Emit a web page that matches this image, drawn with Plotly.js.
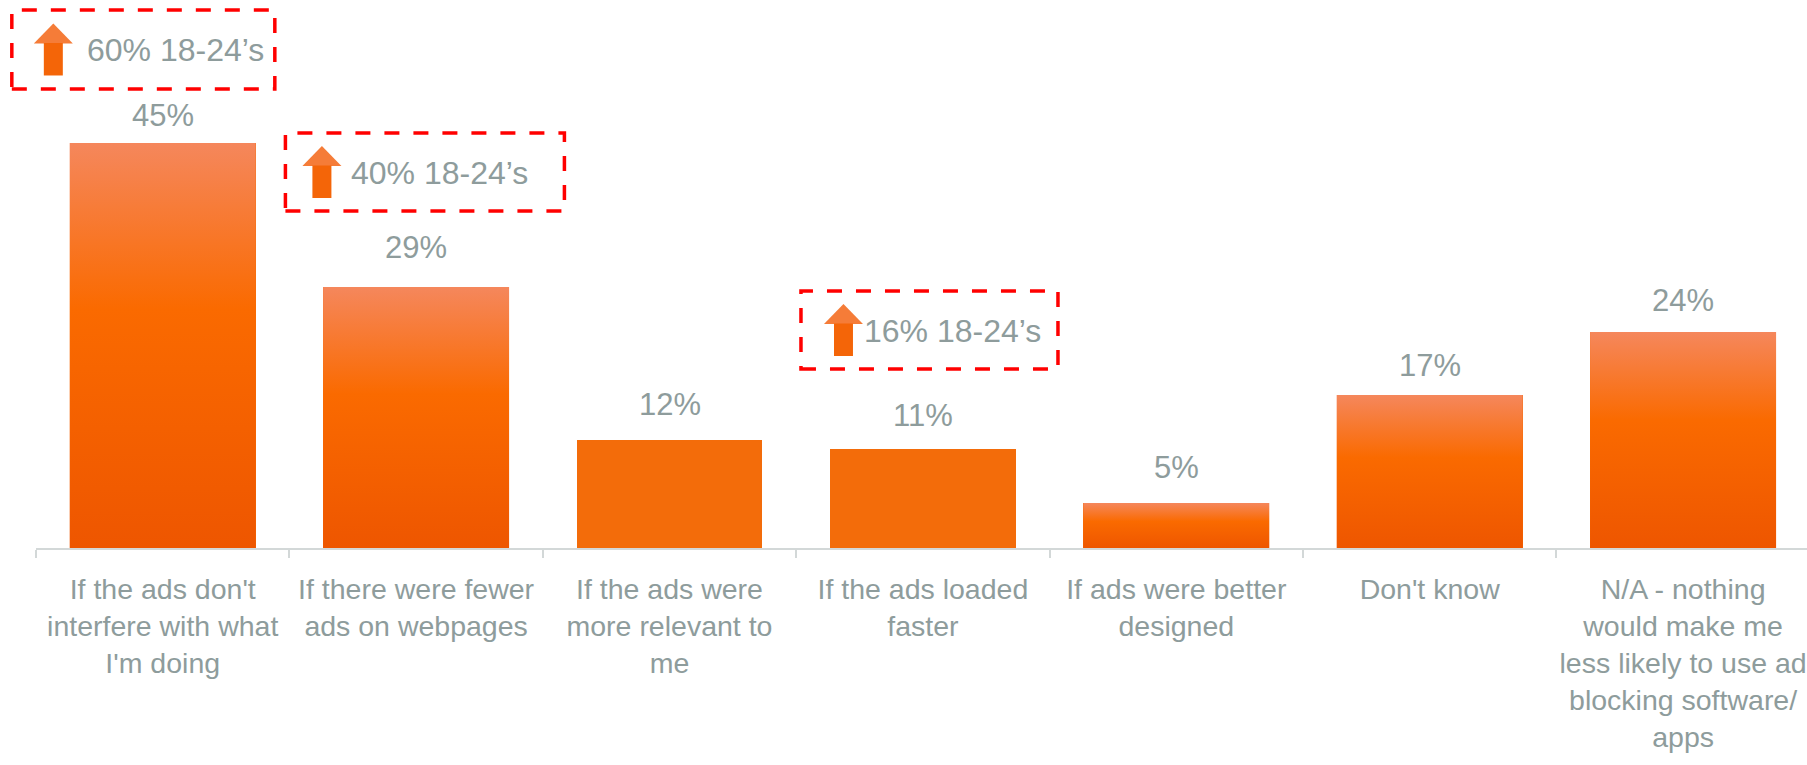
<!DOCTYPE html>
<html><head><meta charset="utf-8">
<script src="https://cdn.plot.ly/plotly-3.0.1.min.js"></script>
<style>html,body{margin:0;padding:0;background:#fff}</style>
</head><body>
<div id="chart" style="width:1807px;height:765px"></div>
<script>
// ---- data ----
const categories = [
  "If the ads don't<br>interfere with what<br>I'm doing",
  "If there were fewer<br>ads on webpages",
  "If the ads were<br>more relevant to<br>me",
  "If the ads loaded<br>faster",
  "If ads were better<br>designed",
  "Don't know",
  "N/A - nothing<br>would make me<br>less likely to use ad<br>blocking software/<br>apps"
];
const values = [45, 29, 12, 11, 5, 17, 24];
const valueLabels = ["45%", "29%", "12%", "11%", "5%", "17%", "24%"];
const calloutText = ["60% 18-24\u2019s", "40% 18-24\u2019s", "16% 18-24\u2019s"];

// ---- styles / positions ----
const gray = "#8E9C9C";
const fontFam = "Liberation Sans, Arial, sans-serif";
const gradientBars = [true, true, false, false, true, true, true];
const labelGap = [16, 28, 24, 22, 24, 18, 20];
const barW = 0.734;
const xRange = [-0.5, 6.489];
const yRange = [0, 60.9];
// callout box centres in paper coordinates
const calloutX = [0.0606, 0.2196, 0.5045];
const calloutY = [0.9097, 0.6861, 0.3978];
const boxW = [263, 279, 257];
const boxH = [79, 78, 78];
const arrowDX = [-90, -103, -86];
const textDX = [32, 15, 23.5];

const traces = [];
traces.push({
  type: "bar", x: categories, y: values, width: barW,
  marker: {color: gradientBars.map(g => g ? "#F66A00" : "#F36C0A")},
  hoverinfo: "skip", xaxis: "x", yaxis: "y"
});
values.forEach((v, i) => {
  if (!gradientBars[i]) return;
  traces.push({
    type: "scatter", mode: "lines", xaxis: "x2", yaxis: "y",
    x: [i - barW / 2, i + barW / 2, i + barW / 2, i - barW / 2, i - barW / 2],
    y: [0, 0, v, v, 0],
    fill: "toself", line: {width: 0, color: "rgba(0,0,0,0)"},
    fillgradient: {type: "vertical",
      colorscale: [[0, "#EE5600"], [0.59, "#FA6A00"], [1, "#F5875C"]]},
    hoverinfo: "skip", showlegend: false
  });
});

const annotations = values.map((v, i) => ({
  xref: "x2", yref: "y", x: i, y: v, text: valueLabels[i],
  showarrow: false, xanchor: "center", yanchor: "bottom",
  yshift: labelGap[i] - 8,
  font: {family: fontFam, size: 31, color: gray}
}));
const shapes = [];
calloutText.forEach((t, k) => {
  annotations.push({
    xref: "paper", yref: "paper", x: calloutX[k], y: calloutY[k], text: t,
    showarrow: false, xanchor: "center", yanchor: "middle",
    xshift: textDX[k], yshift: -1,
    font: {family: fontFam, size: 32, color: gray}
  });
  shapes.push({
    type: "rect", xref: "paper", yref: "paper",
    xsizemode: "pixel", ysizemode: "pixel",
    xanchor: calloutX[k], yanchor: calloutY[k],
    x0: -boxW[k] / 2, x1: boxW[k] / 2, y0: -boxH[k] / 2, y1: boxH[k] / 2,
    line: {color: "#FF0000", width: 3.5, dash: "15px,14px"},
    fillcolor: "rgba(0,0,0,0)"
  });
  const a = arrowDX[k];
  shapes.push({
    type: "path", xref: "paper", yref: "paper",
    xsizemode: "pixel", ysizemode: "pixel",
    xanchor: calloutX[k], yanchor: calloutY[k],
    path: `M ${a},26 L ${a + 19.5},6 L ${a - 19.5},6 Z`,
    line: {width: 0}, fillcolor: "#F57C38"
  });
  shapes.push({
    type: "path", xref: "paper", yref: "paper",
    xsizemode: "pixel", ysizemode: "pixel",
    xanchor: calloutX[k], yanchor: calloutY[k],
    path: `M ${a - 9.5},6.5 L ${a + 9.5},6.5 L ${a + 9.5},-26 L ${a - 9.5},-26 Z`,
    line: {width: 0}, fillcolor: "#F46508"
  });
});

const layout = {
  width: 1807, height: 765,
  margin: {l: 36, r: 0, t: 0, b: 217, pad: 0},
  paper_bgcolor: "#fff", plot_bgcolor: "#fff",
  showlegend: false, bargap: 0,
  font: {family: fontFam, color: gray},
  xaxis: {
    type: "category", range: xRange, tickson: "boundaries", tickangle: 0,
    ticks: "outside", ticklen: 8, tickwidth: 2, tickcolor: "#D3D8D8",
    ticklabelstandoff: 15,
    showline: true, linecolor: "#D3D8D8", linewidth: 2,
    showgrid: false, zeroline: false, automargin: false, fixedrange: true,
    tickfont: {family: fontFam, size: 28.5, color: gray}
  },
  xaxis2: {overlaying: "x", range: xRange, visible: false, anchor: "y", fixedrange: true},
  yaxis: {range: yRange, visible: false, fixedrange: true, zeroline: false, showgrid: false},
  annotations: annotations, shapes: shapes
};
Plotly.newPlot("chart", traces, layout, {displayModeBar: false, staticPlot: true});
</script>
</body></html>
